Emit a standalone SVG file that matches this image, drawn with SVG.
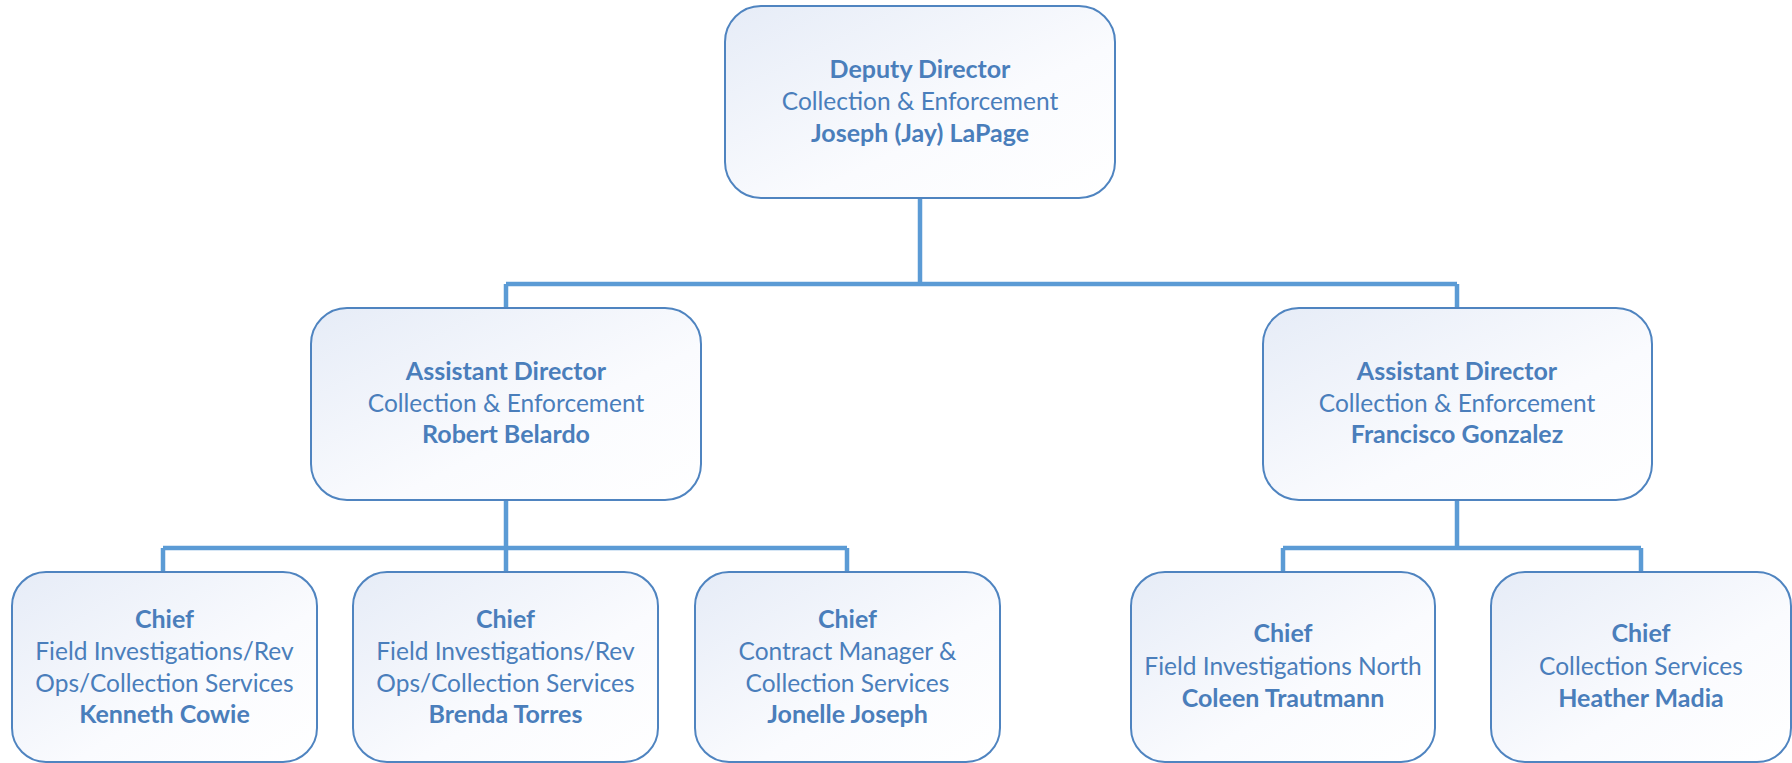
<svg xmlns="http://www.w3.org/2000/svg" width="1792" height="763" viewBox="0 0 1792 763">
  <defs>
    <linearGradient id="fill" x1="0" y1="0" x2="1" y2="1">
      <stop offset="0" stop-color="#e6ecf7"/>
      <stop offset="0.6" stop-color="#fafbfe"/>
      <stop offset="1" stop-color="#ffffff"/>
    </linearGradient>
  </defs>
  <style>
    .box { fill: url(#fill); stroke: #4f84c0; stroke-width: 2; }
    .conn { fill: none; stroke: #5b9bd5; stroke-width: 4.5; stroke-linecap: butt; }
    text { font-family: Lato, "Liberation Sans", sans-serif; font-size: 24.5px; fill: #4a7ebb; text-anchor: middle; }
    .b { font-weight: bold; font-size: 25px; }
  </style>
  <rect width="1792" height="763" fill="#ffffff"/>
  <g id="connectors">
    <path class="conn" d="M920 198 V284 M506 284 H1457 M506 284 V308 M1457 284 V308"/>
    <path class="conn" d="M506 500 V548 M163 548 H847 M163 548 V572 M506 548 V572 M847 548 V572"/>
    <path class="conn" d="M1457 500 V548 M1283 548 H1641 M1283 548 V572 M1641 548 V572"/>
  </g>
  <g id="deputy">
    <rect class="box" x="725" y="6" width="390" height="192" rx="36"/>
    <text x="920" y="78" class="b">Deputy Director</text>
    <text x="920" y="110">Collection &amp; Enforcement</text>
    <text x="920" y="142" class="b">Joseph (Jay) LaPage</text>
  </g>
  <g id="ad-belardo">
    <rect class="box" x="311" y="308" width="390" height="192" rx="36"/>
    <text x="506" y="380" class="b">Assistant Director</text>
    <text x="506" y="412">Collection &amp; Enforcement</text>
    <text x="506" y="443" class="b">Robert Belardo</text>
  </g>
  <g id="ad-gonzalez">
    <rect class="box" x="1263" y="308" width="389" height="192" rx="36"/>
    <text x="1457" y="380" class="b">Assistant Director</text>
    <text x="1457" y="412">Collection &amp; Enforcement</text>
    <text x="1457" y="443" class="b">Francisco Gonzalez</text>
  </g>
  <g id="chief-cowie">
    <rect class="box" x="12" y="572" width="305" height="190" rx="34"/>
    <text x="164.5" y="628" class="b">Chief</text>
    <text x="164.5" y="660">Field Investigations/Rev</text>
    <text x="164.5" y="692">Ops/Collection Services</text>
    <text x="164.5" y="723" class="b">Kenneth Cowie</text>
  </g>
  <g id="chief-torres">
    <rect class="box" x="353" y="572" width="305" height="190" rx="34"/>
    <text x="505.5" y="628" class="b">Chief</text>
    <text x="505.5" y="660">Field Investigations/Rev</text>
    <text x="505.5" y="692">Ops/Collection Services</text>
    <text x="505.5" y="723" class="b">Brenda Torres</text>
  </g>
  <g id="chief-joseph">
    <rect class="box" x="695" y="572" width="305" height="190" rx="34"/>
    <text x="847.5" y="628" class="b">Chief</text>
    <text x="847.5" y="660">Contract Manager &amp;</text>
    <text x="847.5" y="692">Collection Services</text>
    <text x="847.5" y="723" class="b">Jonelle Joseph</text>
  </g>
  <g id="chief-trautmann">
    <rect class="box" x="1131" y="572" width="304" height="190" rx="34"/>
    <text x="1283" y="642" class="b">Chief</text>
    <text x="1283" y="675">Field Investigations North</text>
    <text x="1283" y="707" class="b">Coleen Trautmann</text>
  </g>
  <g id="chief-madia">
    <rect class="box" x="1491" y="572" width="300" height="190" rx="34"/>
    <text x="1641" y="642" class="b">Chief</text>
    <text x="1641" y="675">Collection Services</text>
    <text x="1641" y="707" class="b">Heather Madia</text>
  </g>
</svg>
